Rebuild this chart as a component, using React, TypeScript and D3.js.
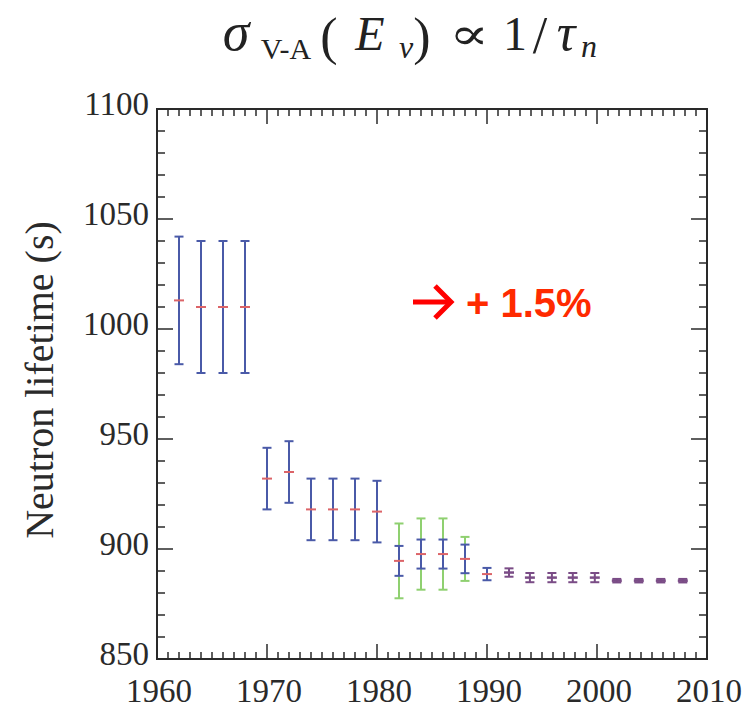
import React from 'react';
import * as d3 from 'd3';

// ── Data ──────────────────────────────────────────────────────────────────
const years = [
  1962, 1964, 1966, 1968, 1970, 1972, 1974, 1976, 1978, 1980, 1982, 1984,
  1986, 1988, 1990, 1992, 1993.9, 1995.9, 1997.8, 1999.8, 2001.8, 2003.8,
  2005.8, 2007.8,
];
const lifetimes = [
  1013, 1010, 1010, 1010, 932, 935, 918, 918, 918, 917, 894.6, 897.7, 897.7,
  895.5, 888.6, 889.3, 887, 887, 887, 887, 885.6, 885.6, 885.6, 885.6,
];
// inner (blue) error
const statErr = [
  29, 30, 30, 30, 14, 14, 14, 14, 14, 14, 6.8, 6.6, 6.6, 6.5, 2.8, 1.9, 2.1,
  2.1, 2.1, 2.1, 0.8, 0.8, 0.8, 0.8,
];
// outer (green) error, 0 = none
const totErr = [
  0, 0, 0, 0, 0, 0, 0, 0, 0, 0, 17, 16.2, 16.2, 10, 0, 0, 0, 0, 0, 0, 0, 0, 0,
  0,
];

const xTicks = [1960, 1970, 1980, 1990, 2000, 2010];
const yTicks = [850, 900, 950, 1000, 1050, 1100];

const W = 756;
const H = 708;
const m = { left: 157, right: 707, top: 109, bottom: 659 };

const BLUE = '#4a5aa8';
const GREEN = '#8fd070';
const RED = '#dc6468';
const PURPLE = '#7a4c86';
const AXIS = '#2a2a2a';
const SERIF = '"Liberation Serif", "DejaVu Serif", serif';

const x = d3.scaleLinear().domain([1960, 2010]).range([m.left, m.right]);
const y = d3.scaleLinear().domain([850, 1100]).range([m.bottom, m.top]);

const ErrBar = ({ cx, lo, hi, color, cap }: any) => {
  const y0 = y(lo);
  const y1 = y(hi);
  return (
    <g stroke={color} strokeWidth={2}>
      <line x1={cx} x2={cx} y1={y0} y2={y1} />
      <line x1={cx - cap} x2={cx + cap} y1={y0} y2={y0} />
      <line x1={cx - cap} x2={cx + cap} y1={y1} y2={y1} />
    </g>
  );
};

export default function App() {
  const minorX = d3.range(1961, 2010).filter((v) => v % 10 !== 0);
  const minorY = d3.range(860, 1100, 10).filter((v) => v % 50 !== 0);

  return (
    <div style={{ position: 'absolute', left: 0, top: 0 }}>
      <svg width={W} height={H} style={{ display: 'block', background: '#fff' }}>
        {/* title: sigma_V-A(E_nu) ∝ 1/tau_n */}
        <text fontFamily={SERIF} fill="#222" textAnchor="middle">
          <tspan x={236} y={50} fontSize={54} fontStyle="italic">σ</tspan>
          <tspan x={286} y={59} fontSize={30}>V-A</tspan>
          <tspan x={329} y={54} fontSize={52}>(</tspan>
          <tspan x={370} y={50} fontSize={48} fontStyle="italic">E</tspan>
          <tspan x={406} y={58} fontSize={32} fontStyle="italic">ν</tspan>
          <tspan x={422} y={54} fontSize={52}>)</tspan>
          <tspan x={515} y={50} fontSize={48}>1</tspan>
          <tspan x={540} y={53} fontSize={52}>/</tspan>
          <tspan x={566} y={50} fontSize={52} fontStyle="italic">τ</tspan>
          <tspan x={589} y={57} fontSize={32} fontStyle="italic">n</tspan>
        </text>
        <text
          transform="translate(469, 49) scale(1.35, 1)"
          fontFamily={SERIF}
          fontSize={44}
          fill="#222"
          textAnchor="middle"
        >
          ∝
        </text>

        {/* data */}
        <g>
          {years.map((yr, i) => {
            const cx = x(yr);
            const v = lifetimes[i];
            const small = statErr[i] < 2.5;
            return (
              <g key={yr}>
                {totErr[i] > 0 && (
                  <ErrBar cx={cx} lo={v - totErr[i]} hi={v + totErr[i]} color={GREEN} cap={4.5} />
                )}
                <ErrBar
                  cx={cx}
                  lo={v - statErr[i]}
                  hi={v + statErr[i]}
                  color={small ? PURPLE : BLUE}
                  cap={4.5}
                />
                <line
                  x1={cx - 5}
                  x2={cx + 5}
                  y1={y(v)}
                  y2={y(v)}
                  stroke={small ? PURPLE : RED}
                  strokeWidth={small ? 2.5 : 2}
                />
              </g>
            );
          })}
        </g>

        {/* frame */}
        <rect
          x={m.left}
          y={m.top}
          width={m.right - m.left}
          height={m.bottom - m.top}
          fill="none"
          stroke={AXIS}
          strokeWidth={2}
        />

        {/* ticks on all four sides, inward */}
        <g stroke={AXIS} strokeWidth={1.5}>
          {minorX.map((v) => (
            <g key={'mx' + v}>
              <line x1={x(v)} x2={x(v)} y1={m.bottom} y2={m.bottom - 7} />
              <line x1={x(v)} x2={x(v)} y1={m.top} y2={m.top + 7} />
            </g>
          ))}
          {xTicks.map((v) => (
            <g key={'Mx' + v}>
              <line x1={x(v)} x2={x(v)} y1={m.bottom} y2={m.bottom - 15} />
              <line x1={x(v)} x2={x(v)} y1={m.top} y2={m.top + 15} />
            </g>
          ))}
          {minorY.map((v) => (
            <g key={'my' + v}>
              <line x1={m.left} x2={m.left + 8} y1={y(v)} y2={y(v)} />
              <line x1={m.right} x2={m.right - 8} y1={y(v)} y2={y(v)} />
            </g>
          ))}
          {yTicks.map((v) => (
            <g key={'My' + v}>
              <line x1={m.left} x2={m.left + 16} y1={y(v)} y2={y(v)} />
              <line x1={m.right} x2={m.right - 16} y1={y(v)} y2={y(v)} />
            </g>
          ))}
        </g>

        {/* tick labels */}
        <g fontFamily={SERIF} fontSize={33} fill="#2a2a2a">
          {yTicks.map((v) => (
            <text key={'ly' + v} x={149} y={y(v) + 6} textAnchor="end">
              {v}
            </text>
          ))}
          {xTicks.map((v) => (
            <text key={'lx' + v} x={x(v) + 2} y={702} textAnchor="middle">
              {v}
            </text>
          ))}
        </g>

        {/* y axis label */}
        <text
          transform={`translate(53, ${(m.top + m.bottom) / 2 - 4}) rotate(-90)`}
          textAnchor="middle"
          fontFamily={SERIF}
          fontSize={40}
          fill="#2a2a2a"
        >
          Neutron lifetime (s)
        </text>

        {/* annotation */}
        <g stroke="#ff0000" strokeWidth={5} fill="none" strokeLinecap="butt">
          <line x1={413} x2={449} y1={302} y2={302} />
          <polyline points="435,286 451,302 435,318" />
        </g>
        <text
          x={466}
          y={317}
          fontFamily='"Liberation Sans", Arial, sans-serif'
          fontWeight="bold"
          fontSize={40}
          fill="#ff2a00"
        >
          + 1.5%
        </text>
      </svg>
    </div>
  );
}
